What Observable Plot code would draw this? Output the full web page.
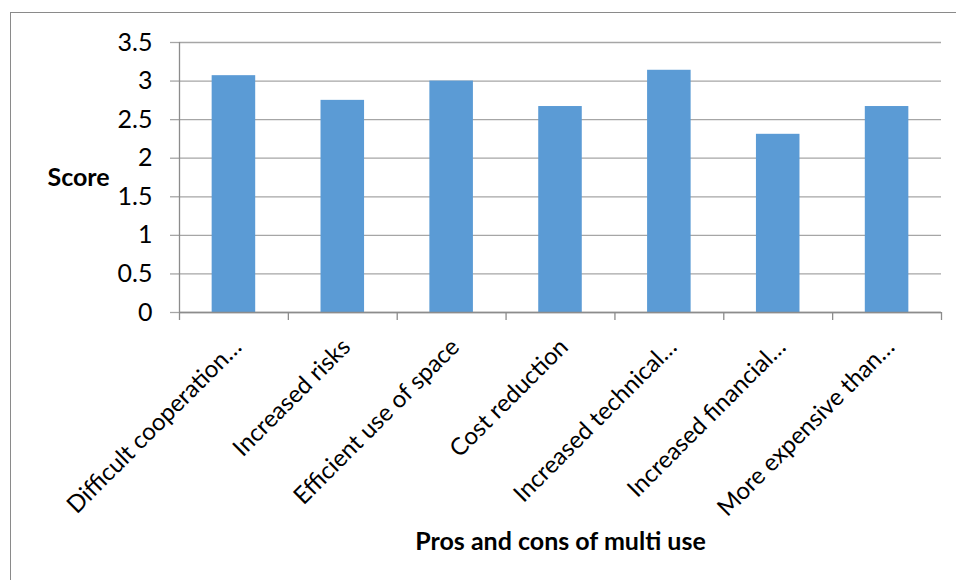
<!DOCTYPE html>
<html>
<head>
<meta charset="utf-8">
<script src="https://cdn.jsdelivr.net/npm/d3@7"></script>
<script src="https://cdn.jsdelivr.net/npm/@observablehq/plot@0.6"></script>
<style>
  html, body { margin: 0; padding: 0; background: #fff; width: 956px; height: 580px; overflow: hidden; }
  #frame { position: absolute; left: 10px; top: 12px; width: 1000px; height: 700px; border: 1.5px solid #8a8a8a; box-sizing: border-box; }
  #chart { position: absolute; left: 0; top: 0; }
</style>
</head>
<body>
<div id="frame"></div>
<div id="chart"></div>
<script>
// Mean score per statement
const categories = [
  "Difficult cooperation…",
  "Increased risks",
  "Efficient use of space",
  "Cost reduction",
  "Increased technical…",
  "Increased financial…",
  "More expensive than…"
];
const scores = [3.07, 2.75, 3.0, 2.67, 3.14, 2.31, 2.67];
const yTicks = [0, 0.5, 1, 1.5, 2, 2.5, 3, 3.5];
const yTitle = "Score";
const xTitle = "Pros and cons of multi use";

const rows = categories.map((category, i) => ({category, score: scores[i], slot: i}));
const slots = d3.range(categories.length + 1); // slot boundaries for the tick marks
const gap = 0.3; // each bar fills the middle 40% of its slot

const gridColor = "#a6a6a6";
const axisColor = "#8c8c8c";

const chart = Plot.plot({
  width: 956,
  height: 580,
  marginLeft: 179,
  marginRight: 15,
  marginTop: 42,
  marginBottom: 268,
  style: {fontFamily: "Lato, sans-serif", fontSize: "25px", color: "#000", background: "transparent"},
  x: {type: "linear", domain: [0, categories.length]},
  y: {domain: [0, 3.5]},
  marks: [
    Plot.gridY(yTicks, {stroke: gridColor, strokeOpacity: 1, strokeWidth: 1.3}),
    Plot.axisY({ticks: yTicks, tickSize: 9, tickPadding: 18, tickFormat: d => String(d), label: null,
      stroke: gridColor, strokeWidth: 1.3, fill: "#000"}),
    Plot.rect(rows, {x1: d => d.slot + gap, x2: d => d.slot + 1 - gap, y1: 0, y2: "score", fill: "#5b9bd5"}),
    Plot.ruleX([0], {stroke: axisColor, strokeWidth: 1.3}),
    Plot.ruleY([0], {stroke: axisColor, strokeWidth: 1.3}),
    Plot.axisX({ticks: slots, tickSize: 8, tickFormat: () => "", label: null, stroke: axisColor, strokeWidth: 1.3}),
    Plot.text(rows, {x: d => d.slot + 0.5, text: "category", frameAnchor: "bottom", fontSize: 24,
      rotate: -45, textAnchor: "end", lineAnchor: "bottom", dx: 9, dy: 36}),
    Plot.text([yTitle], {frameAnchor: "left", textAnchor: "start", dx: -132, fontWeight: "bold"}),
    Plot.text([xTitle], {frameAnchor: "bottom", lineAnchor: "bottom", dy: 237, fontWeight: "bold"})
  ]
});

document.getElementById("chart").append(chart);
</script>
</body>
</html>
